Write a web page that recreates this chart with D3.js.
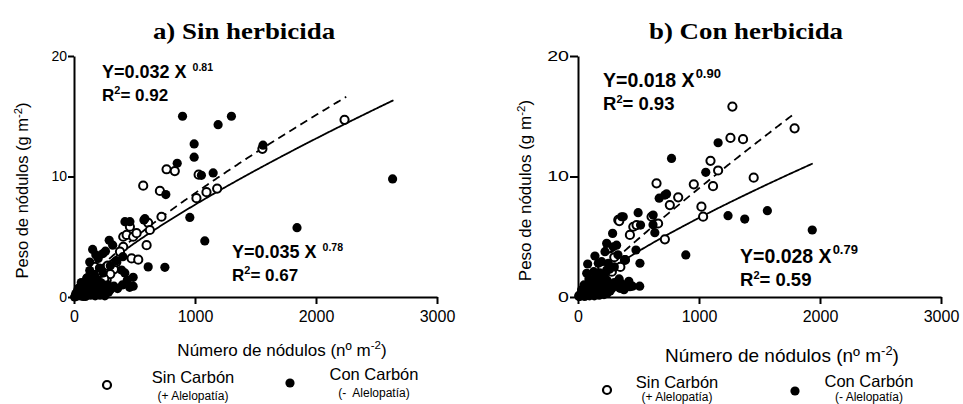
<!DOCTYPE html>
<html>
<head>
<meta charset="utf-8">
<script src="https://cdn.jsdelivr.net/npm/d3@7"></script>
<style>
  body { margin: 0; background: #fff; }
  text { font-family: "Liberation Sans", Arial, Helvetica, sans-serif; fill: #000; }
</style>
</head>
<body>
<svg id="chart" width="963" height="404"></svg>
<script>
// ---- data -------------------------------------------------------------
const xTickValues = [0, 1000, 2000, 3000];
const yTickValues = [0, 10, 20];

// a) Sin herbicida — [nódulos m-2, peso g m-2]
const sinHerbSinCarbon = [
  [2236,14.7],[1557,12.3],[765,10.6],[833,10.45],[572,9.24],[710,8.8],[1012,8.2],[1095,8.7],
  [1183,9.0],[1030,10.15],[723,6.66],[613,6.16],[627,5.56],[462,5.83],[407,5.0],[435,5.15],
  [489,5.0],[517,5.3],[600,4.3],[407,4.17],[380,3.76],[476,3.2],[531,3.1],[173,2.5],
  [242,1.68],[270,1.41],[330,2.3],[300,1.9],[250,1.5],[200,1.2],[150,0.9],[100,0.3],
  [80,0.6],[50,0.4],[20,0.2],[120,1.3],[180,0.5],[60,0.9],[220,2.0],[350,2.9],[280,2.6]
];
const sinHerbConCarbon = [
  [897,15.0],[1191,14.3],[1301,15.0],[993,12.7],[993,11.6],[853,11.1],[1053,10.1],[1150,10.3],
  [759,8.5],[957,6.6],[1081,4.65],[1843,5.75],[1562,12.6],[2633,9.8],[421,6.25],[462,6.25],
  [578,6.4],[586,6.5],[291,4.7],[154,3.95],[613,2.5],[751,2.46],[489,1.63],[489,0.9],
  [393,2.24],[105,1.55],[240,3.6],[404,3.35],[130,2.9],[200,3.2],[320,4.3],[260,3.8],
  [180,3.5],[350,3.0],[300,2.6],[420,2.0],[440,1.4],[460,0.8],[400,1.0],[360,0.7],
  [330,0.9],[300,0.6],[280,1.0],[250,0.8],[220,1.2],[200,1.0],[180,0.8],[150,0.6],
  [160,1.3],[140,1.1],[120,0.9],[100,0.7],[80,0.5],[60,0.3],[40,0.2],[20,0.1],
  [10,0.05],[50,0.8],[90,1.2],[110,1.6],[70,1.0],[120,0.4],[200,0.3],[30,0.5],
  [170,1.8],[240,2.0],[210,2.4],[130,2.2],[60,1.2],[90,0.2],[150,0.2],[250,0.3],
  [5,0.0],[15,0.3],[35,0.1],[75,0.05],
  [25,0.2],[45,0.4],[65,0.6],[85,0.3],[105,0.5],[125,0.7],[145,0.9],[165,0.5],
  [185,0.3],[205,0.7],[225,0.5],[245,1.0],[265,0.6],[285,0.4],[55,0.1],[95,0.05],
  [135,0.15],[175,0.1],[215,0.15],[255,0.1],[35,0.7],[75,0.8],[115,1.1],[155,1.0],[195,1.3]
];

// b) Con herbicida
const conHerbSinCarbon = [
  [1276,15.8],[1260,13.2],[1364,13.1],[1790,14.0],[1095,11.3],[1158,10.5],[1452,9.9],[1116,9.2],
  [957,9.35],[649,9.43],[828,8.27],[759,7.63],[1020,7.5],[1034,6.67],[718,4.79],[662,6.1],
  [608,6.66],[333,6.4],[341,6.3],[429,5.15],[457,5.83],[484,5.97],[264,4.04],[388,3.07],
  [250,4.04],[300,3.3],[200,2.4],[150,1.8],[100,1.1],[60,0.6],[30,0.3],[10,0.1],
  [120,0.4],[220,1.2],[280,2.1],[350,2.5],[180,0.8]
];
const conHerbConCarbon = [
  [773,11.5],[1158,12.8],[1056,10.35],[671,8.2],[732,8.55],[497,7.0],[374,6.66],[621,6.8],
  [1240,6.75],[1378,6.47],[1565,7.16],[1936,5.56],[891,3.49],[517,5.97],[635,5.34],[479,3.9],
  [512,2.8],[286,5.28],[237,4.45],[80,2.74],[140,3.4],[195,2.93],[429,0.86],[347,0.72],
  [237,2.24],[360,6.66],[620,6.0],[718,8.46],[291,4.17],[319,4.3],[223,3.76],[168,2.8],
  [72,1.97],[390,3.1],[510,0.9],
  [20,0.1],[40,0.3],[60,0.5],[80,0.8],[100,1.0],[120,1.3],[140,1.5],[160,1.8],
  [180,2.0],[200,1.6],[220,1.9],[240,1.4],[260,1.0],[280,0.7],[300,1.2],[320,0.9],
  [340,1.5],[360,1.1],[380,0.6],[400,0.9],[260,2.3],[300,2.5],[150,0.4],[200,0.6],
  [100,0.2],[50,1.0],[30,0.6],[10,0.05],[90,1.5],[130,2.1],[250,2.8],[330,3.5],
  [450,0.9],[420,1.3],[240,0.3],
  [25,0.2],[45,0.4],[65,0.2],[85,0.5],[105,0.6],[125,0.8],[145,0.3],[165,0.9],
  [185,0.5],[205,1.1],[225,0.4],[245,0.8],[265,0.5],[285,1.0],[55,0.05],[95,0.1],
  [135,0.1],[175,0.15],[215,0.2],[35,0.5],[75,0.7],[115,1.0],[155,1.2],[195,0.3]
];

// power fits Y = a X^b
const fitSinHerbSinCarbon = { a: 0.032, b: 0.81, xMax: 2250 };
const fitSinHerbConCarbon = { a: 0.035, b: 0.78, xMax: 2640 };
const fitConHerbSinCarbon = { a: 0.018, b: 0.90, xMax: 1790 };
const fitConHerbConCarbon = { a: 0.028, b: 0.79, xMax: 1940 };

// ---- drawing ----------------------------------------------------------
const svg = d3.select("#chart");

const panels = [
  {
    title: "a) Sin herbicida", titleX: 244,
    x0: 74, x1: 437,
    open: sinHerbSinCarbon, filled: sinHerbConCarbon,
    fitOpen: fitSinHerbSinCarbon, fitFilled: fitSinHerbConCarbon,
    yTickFont: 14, yTickScale: 1.0, yTickSize: 6,
    yLabelX: 28, yLabelFont: 16.5,
    xLabelX: 282, xLabelY: 356, xLabelFont: 17,
    eqFont: 18, supFont: 10.5, supGap: 6, supRise: -7,
    eq1: { x: 102, y: 78, coef: "Y=0.032 X", exp: "0.81", r2: "0.92" },
    eq2: { x: 232, y: 258, coef: "Y=0.035 X", exp: "0.78", r2: "0.67" },
    legend: { openX: 107, openY: 385, filledX: 290, filledY: 383,
              t1X: 193, t1Y: 383, s1Y: 400, t2X: 374, t2Y: 380, s2Y: 397,
              s1: "(+ Alelopatía)", s2: "(-  Alelopatía)" }
  },
  {
    title: "b) Con herbicida", titleX: 746,
    x0: 578, x1: 941,
    open: conHerbSinCarbon, filled: conHerbConCarbon,
    fitOpen: fitConHerbSinCarbon, fitFilled: fitConHerbConCarbon,
    yTickFont: 14, yTickScale: 1.4, yTickSize: 8,
    yLabelX: 531, yLabelFont: 17,
    xLabelX: 782, xLabelY: 362, xLabelFont: 19,
    eqFont: 19.5, supFont: 13, supGap: 1, supRise: -9,
    eq1: { x: 603, y: 87, coef: "Y=0.018 X", exp: "0.90", r2: "0.93" },
    eq2: { x: 740, y: 263, coef: "Y=0.028 X", exp: "0.79", r2: "0.59" },
    legend: { openX: 607, openY: 390, filledX: 795, filledY: 391,
              t1X: 677, t1Y: 388, s1Y: 401, t2X: 869, t2Y: 387, s2Y: 401,
              s1: "(+ Alelopatía)", s2: "(- Alelopatía)" }
  }
];

const yTop = 56, yBottom = 297;

panels.forEach(p => {
  const x = d3.scaleLinear().domain([0, 3000]).range([p.x0, p.x1]);
  const y = d3.scaleLinear().domain([0, 20]).range([yBottom, yTop]);
  const g = svg.append("g");

  // title (bold serif, slightly widened)
  g.append("text")
    .attr("transform", `translate(${p.titleX},39) scale(1.12,1)`)
    .attr("text-anchor", "middle")
    .style("font-family", '"Liberation Serif", "Times New Roman", serif')
    .style("font-weight", "bold")
    .style("font-size", "24px")
    .text(p.title);

  // fitted curves
  const curve = d3.line().x(d => x(d[0])).y(d => y(d[1]));
  const fitPoints = f => d3.range(0, f.xMax, 10).concat([f.xMax]).map(v => [v, f.a * Math.pow(v, f.b)]);
  g.append("path").attr("d", curve(fitPoints(p.fitOpen)))
    .attr("fill", "none").attr("stroke", "#000").attr("stroke-width", 1.8)
    .attr("stroke-dasharray", "8,5");
  g.append("path").attr("d", curve(fitPoints(p.fitFilled)))
    .attr("fill", "none").attr("stroke", "#000").attr("stroke-width", 1.8);

  // points: open (Sin Carbón) underneath, filled (Con Carbón) on top
  g.append("g").selectAll("circle").data(p.open).join("circle")
    .attr("cx", d => x(d[0])).attr("cy", d => y(d[1])).attr("r", 4.1)
    .attr("fill", "#fff").attr("stroke", "#000").attr("stroke-width", 2);
  g.append("g").selectAll("circle").data(p.filled).join("circle")
    .attr("cx", d => x(d[0])).attr("cy", d => y(d[1])).attr("r", 4.6)
    .attr("fill", "#000");

  // axes
  const xAxis = g.append("g").attr("transform", `translate(0,${yBottom})`)
    .call(d3.axisBottom(x).tickValues(xTickValues).tickSize(7).tickSizeOuter(0).tickPadding(7).tickFormat(d3.format("d")));
  xAxis.selectAll("text").style("font-size", "16px").style("font-family", '"Liberation Sans", Arial, sans-serif');
  const yAxis = g.append("g").attr("transform", `translate(${p.x0},0)`)
    .call(d3.axisLeft(y).tickValues(yTickValues).tickSize(p.yTickSize).tickSizeOuter(0).tickPadding(1));
  yAxis.selectAll("text")
    .style("font-size", p.yTickFont + "px")
    .style("font-family", '"Liberation Sans", Arial, sans-serif')
    .attr("x", null)
    .attr("transform", `translate(${-p.yTickSize - 1},0) scale(${p.yTickScale},1)`);
  [xAxis, yAxis].forEach(a => {
    a.select(".domain").attr("stroke-width", 2);
    a.selectAll(".tick line").attr("stroke-width", 2);
  });

  // axis titles
  const yl = g.append("text")
    .attr("transform", `translate(${p.yLabelX},${(yTop + yBottom) / 2 + 14}) rotate(-90)`)
    .attr("text-anchor", "middle")
    .style("font-size", p.yLabelFont + "px");
  yl.append("tspan").text("Peso de nódulos (g m");
  yl.append("tspan").attr("dy", -6).style("font-size", (p.yLabelFont * 0.68) + "px").text("-2");
  yl.append("tspan").attr("dy", 6).text(")");

  const xl = g.append("text")
    .attr("x", p.xLabelX).attr("y", p.xLabelY)
    .attr("text-anchor", "middle")
    .style("font-size", p.xLabelFont + "px");
  xl.append("tspan").text("Número de nódulos (nº m");
  xl.append("tspan").attr("dy", -7).style("font-size", (p.xLabelFont * 0.68) + "px").text("-2");
  xl.append("tspan").attr("dy", 7).text(")");

  // equations
  [p.eq1, p.eq2].forEach(e => {
    const t = g.append("text").attr("x", e.x).attr("y", e.y)
      .style("font-weight", "bold").style("font-size", p.eqFont + "px");
    t.append("tspan").text(e.coef);
    t.append("tspan").attr("dx", p.supGap).attr("dy", p.supRise)
      .style("font-size", p.supFont + "px").text(e.exp);
    const r = g.append("text").attr("x", e.x).attr("y", e.y + 23)
      .style("font-weight", "bold").style("font-size", (p.eqFont - 1) + "px");
    r.append("tspan").text("R");
    r.append("tspan").attr("dy", -7).style("font-size", "11px").text("2");
    r.append("tspan").attr("dy", 7).text("= " + e.r2);
  });

  // legend
  const L = p.legend;
  g.append("circle").attr("cx", L.openX).attr("cy", L.openY).attr("r", 4)
    .attr("fill", "#fff").attr("stroke", "#000").attr("stroke-width", 2.2);
  g.append("circle").attr("cx", L.filledX).attr("cy", L.filledY).attr("r", 4.6).attr("fill", "#000");
  const leg = [
    [L.t1X, L.t1Y, "Sin Carbón", 16.5], [L.t1X, L.s1Y, L.s1, 12],
    [L.t2X, L.t2Y, "Con Carbón", 16.5], [L.t2X, L.s2Y, L.s2, 12]
  ];
  leg.forEach(([lx, ly, s, fs]) => {
    g.append("text").attr("x", lx).attr("y", ly).attr("text-anchor", "middle")
      .style("font-size", fs + "px").style("white-space", "pre").text(s);
  });
});
</script>
</body>
</html>
